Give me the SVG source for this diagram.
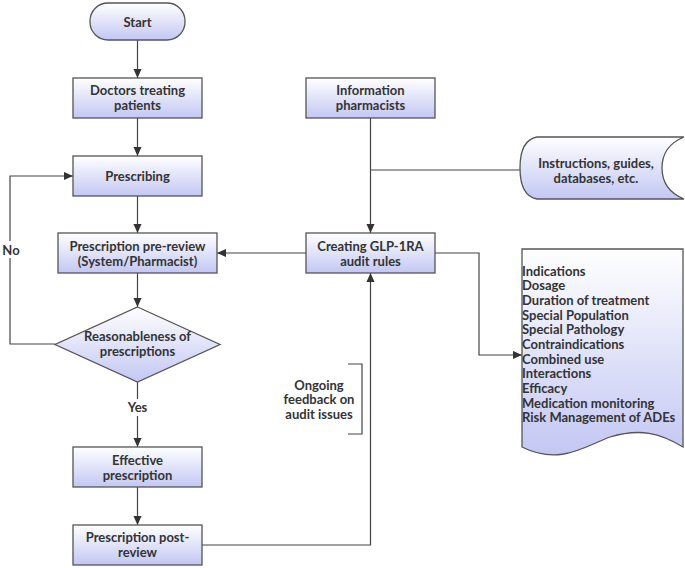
<svg xmlns="http://www.w3.org/2000/svg" width="685" height="568" viewBox="0 0 685 568">
<defs>
<linearGradient id="g" x1="0" y1="0" x2="0" y2="1">
<stop offset="0" stop-color="#ffffff"/>
<stop offset="1" stop-color="#c3c7f3"/>
</linearGradient>
<marker id="ar" viewBox="0 0 10 10" refX="10" refY="5" markerWidth="9" markerHeight="9" markerUnits="userSpaceOnUse" orient="auto">
<path d="M0,0.5 L10,5 L0,9.5 Z" fill="#333"/>
</marker>
<style>
.n{fill:url(#g);stroke:#555;stroke-width:1.3}
.t{font-family:Lato,"Liberation Sans",sans-serif;font-weight:bold;font-size:13px;fill:#333;text-anchor:middle}
.l{font-family:Lato,"Liberation Sans",sans-serif;font-weight:bold;font-size:13px;fill:#333}
.c{fill:none;stroke:#444;stroke-width:1.2}
</style>
</defs>
<rect width="685" height="568" fill="#fff"/>
<g id="connectors">
<path class="c" d="M137.5,40 V78" marker-end="url(#ar)"/>
<path class="c" d="M137.5,118 V156" marker-end="url(#ar)"/>
<path class="c" d="M137.5,196 V233" marker-end="url(#ar)"/>
<path class="c" d="M137.5,273 V307" marker-end="url(#ar)"/>
<path class="c" d="M137.5,382 V447" marker-end="url(#ar)"/>
<path class="c" d="M137.5,487 V525" marker-end="url(#ar)"/>
<path class="c" d="M55,344 H10 V176 H73" marker-end="url(#ar)"/>
<path class="c" d="M370.5,118 V233" marker-end="url(#ar)"/>
<path class="c" d="M370.5,170 H520"/>
<path class="c" d="M306,253 H217" marker-end="url(#ar)"/>
<path class="c" d="M435,253 H479 V355 H522" marker-end="url(#ar)"/>
<path class="c" d="M202,545 H370.5 V273" marker-end="url(#ar)"/>
<path class="c" d="M348,364 H362 V434 H348"/>
<rect x="2" y="241" width="20" height="17" fill="#fff"/>
<text class="t" x="11" y="254.5">No</text>
<rect x="125" y="399" width="25" height="17" fill="#fff"/>
<text class="t" x="137.5" y="412">Yes</text>
<text class="t" x="319" y="389.5">Ongoing</text>
<text class="t" x="319" y="404">feedback on</text>
<text class="t" x="319" y="418.5">audit issues</text>
</g>
<g id="start">
<rect class="n" x="90" y="3" width="95" height="37" rx="18" ry="18"/>
<text class="t" x="137.5" y="26.5">Start</text>
</g>
<g id="doctors">
<rect class="n" x="73" y="78" width="129" height="40"/>
<text class="t" x="137.5" y="95">Doctors treating</text>
<text class="t" x="137.5" y="110">patients</text>
</g>
<g id="prescribing">
<rect class="n" x="73" y="156" width="129" height="40"/>
<text class="t" x="137.5" y="180.5">Prescribing</text>
</g>
<g id="prereview">
<rect class="n" x="58" y="233" width="159" height="40"/>
<text class="t" x="137.5" y="251">Prescription pre-review</text>
<text class="t" x="137.5" y="266">(System/Pharmacist)</text>
</g>
<g id="decision">
<path class="n" d="M137.5,307 L220,344.5 L137.5,382 L55,344.5 Z"/>
<text class="t" x="137.5" y="341">Reasonableness of</text>
<text class="t" x="137.5" y="355.5">prescriptions</text>
</g>
<g id="effective">
<rect class="n" x="73" y="447" width="129" height="40"/>
<text class="t" x="137.5" y="464.5">Effective</text>
<text class="t" x="137.5" y="479.5">prescription</text>
</g>
<g id="postreview">
<rect class="n" x="73" y="525" width="129" height="40"/>
<text class="t" x="137.5" y="542">Prescription post-</text>
<text class="t" x="137.5" y="557">review</text>
</g>
<g id="info">
<rect class="n" x="306" y="78" width="129" height="40"/>
<text class="t" x="370.5" y="95">Information</text>
<text class="t" x="370.5" y="109.5">pharmacists</text>
</g>
<g id="creating">
<rect class="n" x="306" y="233" width="129" height="40"/>
<text class="t" x="370.5" y="251">Creating GLP-1RA</text>
<text class="t" x="370.5" y="266">audit rules</text>
</g>
<g id="sources">
<path class="n" d="M684,137 H537 Q520,140 520,168 Q520,196 537,199 H684 Q662,190 662,168 Q662,146 684,137 Z"/>
<text class="t" x="596" y="167.5">Instructions, guides,</text>
<text class="t" x="596" y="182.5">databases, etc.</text>
</g>
<g id="rules">
<path class="n" d="M522,249 H683 V447 C660,433 640,428 610,437 C585,446 560,466 522,447 Z"/>
<text class="l" x="522" y="275.5">Indications</text>
<text class="l" x="522" y="290">Dosage</text>
<text class="l" x="522" y="304.5">Duration of treatment</text>
<text class="l" x="522" y="319.5">Special Population</text>
<text class="l" x="522" y="334">Special Pathology</text>
<text class="l" x="522" y="348.5">Contraindications</text>
<text class="l" x="522" y="363.5">Combined use</text>
<text class="l" x="522" y="378">Interactions</text>
<text class="l" x="522" y="392.5">Efficacy</text>
<text class="l" x="522" y="407.5">Medication monitoring</text>
<text class="l" x="522" y="422">Risk Management of ADEs</text>
</g>
</svg>
